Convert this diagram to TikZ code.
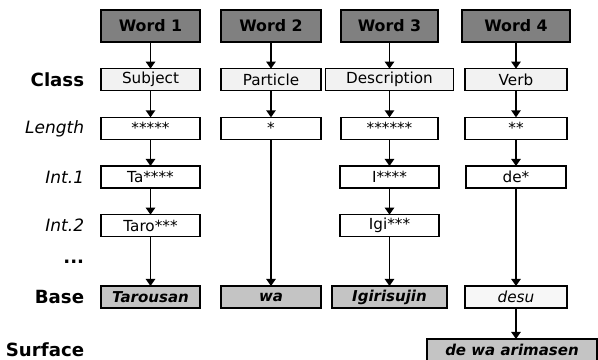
\documentclass[tikz,border=0pt]{standalone}
\usepackage{fontspec}
\setmainfont{DejaVu Sans}
\usepackage{tikz}
\usetikzlibrary{arrows.meta, positioning, calc}
\definecolor{wordgrey}{HTML}{808080}
\definecolor{classgrey}{HTML}{F2F2F2}
\definecolor{basegrey}{HTML}{C4C4C4}
\definecolor{lightbase}{HTML}{F7F7F7}

\begin{document}
\begin{tikzpicture}[
			node distance=0.8cm,
			box/.style={rectangle, draw, line width=1.1pt, minimum height=0.66cm, outer sep=0pt,
				inner sep=1pt, align=center, font=\fontsize{13}{15}\selectfont},
			wordbox/.style={box, fill=wordgrey, minimum height=0.96cm,
				font=\bfseries\fontsize{13.5}{16}\selectfont},
			classbox/.style={box, fill=classgrey},
			plainbox/.style={box, fill=white},
			basebox/.style={box, fill=basegrey, font=\bfseries\itshape\fontsize{12.8}{15}\selectfont},
			softbox/.style={box, fill=lightbase, font=\itshape\fontsize{13}{15}\selectfont},
			boldlab/.style={inner sep=0pt, font=\bfseries\fontsize{15.5}{18}\selectfont},
			itlab/.style={inner sep=0pt, font=\itshape\fontsize{14.5}{17}\selectfont},
			arrow/.style={-{Triangle[length=6pt, width=8pt]}, line width=1.3pt}
			]
			\useasboundingbox (0,0) rectangle (17.94,-10.8);
			
			% words
			\node[wordbox, minimum width=2.97cm] (w1) at (4.515,-0.78) {Word 1};
			\node[wordbox, minimum width=3.0cm] (w2) at (8.13,-0.78) {Word 2};
			\node[wordbox, minimum width=2.91cm] (w3) at (11.685,-0.78) {Word 3};
			\node[wordbox, minimum width=3.24cm] (w4) at (15.48,-0.78) {Word 4};
			
			% class
			\node[classbox, minimum width=2.97cm, below=of w1] (cls1) {Subject};
			\node[classbox, minimum width=3.0cm, below=of w2] (cls2) {Particle};
			\node[classbox, minimum width=3.84cm, below=of w3] (cls3) {Description};
			\node[classbox, minimum width=3.06cm, below=of w4] (cls4) {Verb};
			
			% length
			\node[plainbox, minimum width=2.97cm, below=of cls1] (len1) {*****};
			\node[plainbox, minimum width=3.0cm, below=of cls2] (len2) {*};
			\node[plainbox, minimum width=2.91cm, below=of cls3] (len3) {******};
			\node[plainbox, minimum width=3.06cm, below=of cls4] (len4) {**};
			
			% intermediate forms
			\node[plainbox, minimum width=2.97cm, below=of len1] (ia1) {Ta****};
			\node[plainbox, minimum width=2.97cm, below=of len3] (ia3) {I****};
			\node[plainbox, minimum width=3.0cm, below=of len4] (ia4) {de*};
			\node[plainbox, minimum width=2.97cm, below=of ia1] (ib1) {Taro***};
			\node[plainbox, minimum width=2.97cm, below=of ia3] (ib3) {Igi***};
			
			% base and surface
			\node[basebox, minimum width=2.97cm, below=1.48cm of ib1] (base1) {Tarousan};
			\node[basebox, minimum width=3.0cm] (base2) at (len2 |- base1) {wa};
			\node[basebox, minimum width=3.45cm] (base3) at (ib3 |- base1) {Igirisujin};
			\node[softbox, minimum width=3.06cm] (base4) at (ia4 |- base1) {desu};
			\node[basebox, minimum width=5.1cm, below=0.93cm of base4, xshift=-0.12cm] (surf) {de wa arimasen};
			
			% row labels
			\node[boldlab, left=0.5cm of cls1] (lclass) {Class};
			\node[itlab, left=0.5cm of len1] (llen) {Length};
			\node[itlab, left=0.5cm of ia1] (lint1) {Int.1};
			\node[itlab, left=0.5cm of ib1] (lint2) {Int.2};
			\node[boldlab, left=0.5cm of base1] (lbase) {Base};
			\node[boldlab, anchor=east] (ldots) at ($(lint2.east)!0.5!(lbase.east)$) {...};
			\node[boldlab, anchor=east] (lsurf) at (lbase.east |- surf) {Surface};
			
			\draw[arrow] (w1) -- (cls1);
			\draw[arrow] (w2) -- (cls2);
			\draw[arrow] (w3) -- (cls3);
			\draw[arrow] (w4) -- (cls4);
			\draw[arrow] (cls1) -- (len1);
			\draw[arrow] (cls2) -- (len2);
			\draw[arrow] (cls3) -- (len3);
			\draw[arrow] (cls4) -- (len4);
			\draw[arrow] (len1) -- (ia1);
			\draw[arrow] (len3) -- (ia3);
			\draw[arrow] (len4) -- (ia4);
			\draw[arrow] (ia1) -- (ib1);
			\draw[arrow] (ia3) -- (ib3);
			\draw[arrow] (ib1) -- (base1);
			\draw[arrow] (ib3) -- (base3);
			\draw[arrow] (len2) -- (base2);
			\draw[arrow] (ia4) -- (base4);
			\draw[arrow] (base4.south) -- (base4.south |- surf.north);
		\end{tikzpicture}
\end{document}
